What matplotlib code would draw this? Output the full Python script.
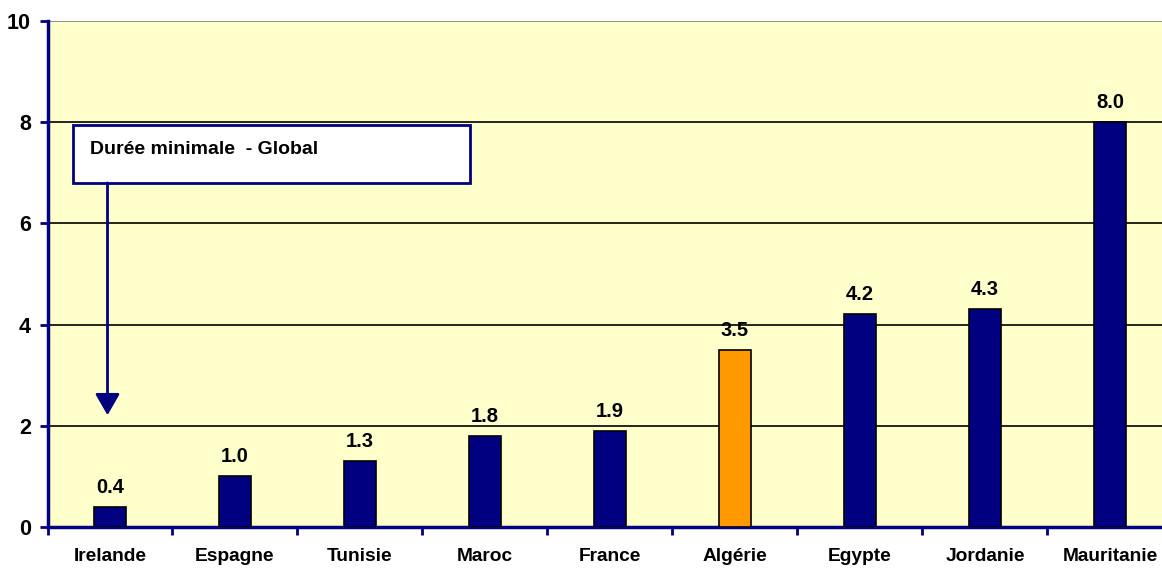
import matplotlib
matplotlib.use("Agg")
import matplotlib.pyplot as plt
from matplotlib.patches import FancyArrowPatch, Rectangle

categories = ["Irelande", "Espagne", "Tunisie", "Maroc", "France", "Algérie", "Egypte", "Jordanie", "Mauritanie"]
values = [0.4, 1.0, 1.3, 1.8, 1.9, 3.5, 4.2, 4.3, 8.0]
highlight = "Algérie"
yticks = [0, 2, 4, 6, 8, 10]
box_text = "Durée minimale  - Global"

navy = "#000080"
orange = "#FF9900"
bg = "#FFFFCC"

plt.rcParams['font.family'] = ['Liberation Sans', 'DejaVu Sans']

fig = plt.figure(figsize=(11.62, 5.71), dpi=100)
fig.patch.set_facecolor("white")
W, H = 1162, 571
step = 125.0
left_px, right_px = 47.5, 47.5 + step * 9
top_px, bot_px = 21, 527
ax = fig.add_axes([left_px / W, (H - bot_px) / H, (right_px - left_px) / W, (bot_px - top_px) / H])
ax.set_facecolor(bg)

x = list(range(len(categories)))
colors = [orange if c == highlight else navy for c in categories]
ax.bar(x, values, width=0.256, color=colors, edgecolor="black", linewidth=1.2, zorder=3)

for xi, v in zip(x, values):
    ax.text(xi, v + 0.2, f"{v:.1f}", ha="center", va="bottom", fontsize=14.5, fontweight="bold", zorder=4)

ax.set_xlim(-0.5, len(categories) - 0.5)
ax.set_ylim(0, 10)
ax.set_yticks(yticks)
ax.set_yticklabels([str(t) for t in yticks], fontsize=15.5, fontweight="bold")
for t in yticks[1:]:
    ax.axhline(t, color="black" if t < 10 else "#808080", linewidth=1.2, zorder=1)

ax.set_xticks([i + 0.5 for i in range(-1, len(categories))])
ax.set_xticklabels([])
ax.set_xticks(x, minor=True)
ax.set_xticklabels(categories, minor=True, fontsize=13.8, fontweight="bold")
ax.tick_params(axis="x", which="minor", length=0, pad=15)
ax.tick_params(axis="x", which="major", direction="out", length=6, color=navy, width=2)
ax.tick_params(axis="y", direction="out", length=6, color=navy, width=2, pad=6)

for s in ["top", "right"]:
    ax.spines[s].set_visible(False)
ax.spines["left"].set_color(navy)
ax.spines["left"].set_linewidth(2.5)
ax.spines["bottom"].set_color(navy)
ax.spines["bottom"].set_linewidth(2.5)

# annotation box
box = Rectangle((-0.3, 6.80), 3.18, 1.14, facecolor="white", edgecolor=navy, linewidth=2, zorder=5)
ax.add_patch(box)
ax.text(-0.16, 7.47, box_text, ha="left", va="center", fontsize=14, fontweight="bold", zorder=6)
arrow = FancyArrowPatch((-0.02, 6.80), (-0.02, 2.21), arrowstyle="-|>,head_length=13,head_width=7.5",
                        mutation_scale=1, color=navy, linewidth=2, zorder=5, shrinkA=0, shrinkB=0)
ax.add_patch(arrow)

fig.savefig("out.png", dpi=100)
